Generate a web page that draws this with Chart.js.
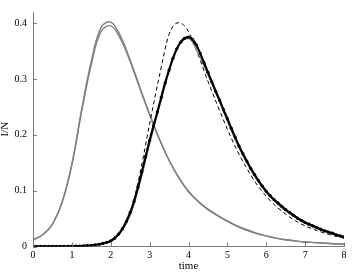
<!DOCTYPE html>
<html>
<head>
<meta charset="utf-8">
<script src="https://cdn.jsdelivr.net/npm/chart.js@4/dist/chart.umd.min.js"></script>
<style>
body { margin: 0; background: #fff; }
</style>
</head>
<body>
<canvas id="chart" width="354" height="274"></canvas>
<script>
// time grid for the smooth curves (step 0.25)
var time_q = [0, 0.25, 0.5, 0.75, 1, 1.25, 1.5, 1.75, 2, 2.25, 2.5, 2.75, 3, 3.25, 3.5, 3.75,
    4, 4.25, 4.5, 4.75, 5, 5.25, 5.5, 5.75, 6, 6.25, 6.5, 6.75, 7, 7.25, 7.5, 7.75, 8];

// time grid for the dotted black curve (step 0.1)
var time_d = [0, 0.1, 0.2, 0.3, 0.4, 0.5, 0.6, 0.7, 0.8, 0.9, 1, 1.1, 1.2, 1.3, 1.4, 1.5, 1.6, 1.7, 1.8, 1.9,
    2, 2.1, 2.2, 2.3, 2.4, 2.5, 2.6, 2.7, 2.8, 2.9, 3, 3.1, 3.2, 3.3, 3.4, 3.5, 3.6, 3.7, 3.8, 3.9,
    4, 4.1, 4.2, 4.3, 4.4, 4.5, 4.6, 4.7, 4.8, 4.9, 5, 5.1, 5.2, 5.3, 5.4, 5.5, 5.6, 5.7, 5.8, 5.9,
    6, 6.1, 6.2, 6.3, 6.4, 6.5, 6.6, 6.7, 6.8, 6.9, 7, 7.1, 7.2, 7.3, 7.4, 7.5, 7.6, 7.7, 7.8, 7.9, 8];

// early epidemic, two gray curves
var early_a = [0.012, 0.021, 0.040, 0.080, 0.148, 0.245, 0.332, 0.392, 0.402, 0.377, 0.334, 0.285, 0.237,
    0.193, 0.155, 0.124, 0.099, 0.081, 0.067, 0.056, 0.046, 0.037, 0.030, 0.024, 0.019, 0.015, 0.012,
    0.010, 0.008, 0.007, 0.006, 0.005, 0.004];
var early_b = [0.012, 0.021, 0.040, 0.079, 0.146, 0.241, 0.326, 0.385, 0.395, 0.372, 0.331, 0.283, 0.236,
    0.192, 0.154, 0.123, 0.098, 0.080, 0.066, 0.055, 0.045, 0.036, 0.029, 0.023, 0.019, 0.015, 0.012,
    0.010, 0.008, 0.007, 0.006, 0.005, 0.004];

// late epidemic: dashed, thin gray, dotted black
var late_dash = [0.0001, 0.0001, 0.0002, 0.0003, 0.0006, 0.0012, 0.0025, 0.005, 0.011, 0.026, 0.060, 0.130,
    0.220, 0.305, 0.380, 0.401, 0.385, 0.343, 0.296, 0.252, 0.210, 0.172, 0.140, 0.112, 0.090, 0.072,
    0.058, 0.046, 0.037, 0.030, 0.024, 0.019, 0.015];
var late_gray = [0.0001, 0.0001, 0.0002, 0.0003, 0.0005, 0.001, 0.002, 0.0045, 0.009, 0.024, 0.055, 0.112,
    0.183, 0.250, 0.315, 0.360, 0.372, 0.345, 0.307, 0.267, 0.223, 0.183, 0.149, 0.120, 0.096, 0.078,
    0.063, 0.051, 0.041, 0.033, 0.027, 0.021, 0.016];
var late_dots = [0.0001, 0.0001, 0.0001, 0.0001, 0.0002, 0.0002, 0.0002, 0.0003, 0.0003, 0.0004,
    0.0005, 0.0007, 0.0009, 0.0012, 0.0016, 0.0022, 0.0030, 0.0040, 0.0055, 0.0075,
    0.010, 0.015, 0.022, 0.032, 0.045, 0.061, 0.081, 0.106, 0.134, 0.162,
    0.190, 0.216, 0.241, 0.267, 0.293, 0.316, 0.337, 0.354, 0.366, 0.373,
    0.375, 0.371, 0.361, 0.346, 0.329, 0.312, 0.295, 0.278, 0.262, 0.245,
    0.229, 0.212, 0.196, 0.180, 0.166, 0.153, 0.140, 0.129, 0.118, 0.108,
    0.099, 0.091, 0.084, 0.078, 0.072, 0.066, 0.061, 0.056, 0.051, 0.047,
    0.043, 0.040, 0.037, 0.034, 0.031, 0.028, 0.026, 0.024, 0.021, 0.019,
    0.017];

var x_ticks = [0, 1, 2, 3, 4, 5, 6, 7, 8];
var x_tick_labels = ['0', '1', '2', '3', '4', '5', '6', '7', '8'];
var y_ticks = [0, 0.1, 0.2, 0.3, 0.4];
var y_tick_labels = ['0', '0.1', '0.2', '0.3', '0.4'];

var axis_color = '#7a7a7a';
var gray = '#808080';
var serif = "'Liberation Serif', 'Times New Roman', serif";

function pairs(xs, ys){
    var out = [];
    for(var i=0;i<xs.length;i++){
        out.push({x: xs[i], y: ys[i]});
    }
    return out;
}

// small tick marks pointing into the plot
var inwardTicks = {
    id: 'inwardTicks',
    afterDraw: function(chart){
        var ctx = chart.ctx;
        var xs = chart.scales.x, ys = chart.scales.y;
        ctx.save();
        ctx.strokeStyle = axis_color;
        ctx.lineWidth = 1;
        ctx.beginPath();
        for(var i=0;i<x_ticks.length;i++){
            var px = Math.round(xs.getPixelForValue(x_ticks[i])) + 0.5;
            ctx.moveTo(px, ys.bottom);
            ctx.lineTo(px, ys.bottom - 4);
        }
        for(var j=0;j<y_ticks.length;j++){
            var py = Math.round(ys.getPixelForValue(y_ticks[j])) + 0.5;
            ctx.moveTo(xs.left, py);
            ctx.lineTo(xs.left + 4, py);
        }
        ctx.stroke();
        ctx.restore();
    }
};

function makeChart(){
    var ctx = document.getElementById('chart').getContext('2d');
    var chart = new Chart(ctx, {
        type: 'line',
        data: {
            datasets: [{
                data: pairs(time_d, late_dots),
                borderColor: '#000',
                backgroundColor: '#000',
                borderWidth: 2.2,
                pointRadius: 1.6,
                pointBorderWidth: 0,
                cubicInterpolationMode: 'monotone',
                order: 1
            }, {
                data: pairs(time_q, late_gray),
                borderColor: gray,
                borderWidth: 1,
                pointRadius: 0,
                cubicInterpolationMode: 'monotone',
                order: 2
            }, {
                data: pairs(time_q, late_dash),
                borderColor: '#000',
                borderWidth: 1,
                borderDash: [4, 3],
                pointRadius: 0,
                cubicInterpolationMode: 'monotone',
                order: 3
            }, {
                data: pairs(time_q, early_a),
                borderColor: gray,
                borderWidth: 1.4,
                pointRadius: 0,
                tension: 0.4,
                order: 4
            }, {
                data: pairs(time_q, early_b),
                borderColor: gray,
                borderWidth: 1.4,
                pointRadius: 0,
                tension: 0.4,
                order: 5
            }]
        },
        options: {
            responsive: false,
            animation: false,
            layout: { padding: { top: 3, right: 10, left: 0, bottom: 0 } },
            plugins: { legend: { display: false }, tooltip: { enabled: false } },
            scales: {
                x: {
                    type: 'linear',
                    min: 0,
                    max: 8,
                    afterFit: function(scale){ scale.height = 27.5; },
                    afterBuildTicks: function(scale){
                        scale.ticks = x_ticks.map(function(v){ return {value: v}; });
                    },
                    grid: { drawOnChartArea: false, drawTicks: false },
                    border: { display: true, color: axis_color, width: 1 },
                    ticks: {
                        padding: 3,
                        color: '#000',
                        maxRotation: 0,
                        font: { family: serif, size: 10 },
                        callback: function(v, i){ return x_tick_labels[i]; }
                    },
                    title: {
                        display: true,
                        text: 'time',
                        color: '#000',
                        padding: { top: 0, bottom: 2.5 },
                        font: { family: serif, size: 11, lineHeight: 1 }
                    }
                },
                y: {
                    min: 0,
                    max: 0.42,
                    afterFit: function(scale){ scale.width = 33; },
                    afterBuildTicks: function(scale){
                        scale.ticks = y_ticks.map(function(v){ return {value: v}; });
                    },
                    grid: { drawOnChartArea: false, drawTicks: false },
                    border: { display: true, color: axis_color, width: 1 },
                    ticks: {
                        padding: 6,
                        color: '#000',
                        font: { family: serif, size: 10 },
                        callback: function(v, i){ return y_tick_labels[i]; }
                    },
                    title: {
                        display: true,
                        text: 'I/N',
                        color: '#000',
                        padding: { top: 0, bottom: 0 },
                        font: { family: serif, size: 11, lineHeight: 1 }
                    }
                }
            }
        },
        plugins: [inwardTicks]
    });
}

makeChart();
</script>
</body>
</html>
